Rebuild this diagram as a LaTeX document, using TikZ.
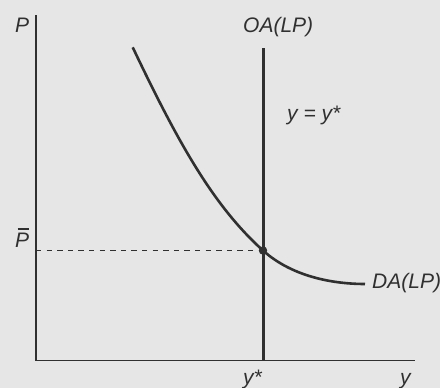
\documentclass[tikz,border=0pt]{standalone}
\usepackage{fontspec}
\setmainfont{Liberation Sans}
\definecolor{bg}{HTML}{E6E6E6}
\definecolor{ink}{HTML}{303030}
\begin{document}
\begin{tikzpicture}[x=1pt,y=-1pt,
  axis/.style={draw=ink, line width=1.3pt},
  supply/.style={draw=ink, line width=3pt},
  demand/.style={draw=ink, line width=2.6pt},
  guide/.style={draw=ink, line width=1pt, dash pattern=on 5.3pt off 5.3pt},
  lbl/.style={font=\fontsize{21}{25}\selectfont\itshape, text=ink, inner sep=0pt, anchor=base west}]
\fill[bg] (0,0) rectangle (440,388);
\useasboundingbox (0,0) rectangle (440,388);
\coordinate (top) at (36,15);
\coordinate (O) at (36,360.3);
\coordinate (xend) at (415,360.3);
\coordinate (stop) at (263,48);
\coordinate (sbot) at (263,360.3);
\coordinate (E) at (263,250.5);
\coordinate (Pb) at (36,250.5);
\coordinate (dstart) at (132.7,47.3);
\coordinate (dend) at (365,284);
\draw[axis] (top) -- (O) -- (xend);
\draw[guide] (Pb) -- (E);
\draw[demand] (dstart) .. controls (177.7,141.8) and (213,205.5) .. (E)
  .. controls (293,277.5) and (335,284) .. (dend);
\draw[supply] (stop) -- (sbot);
\fill[ink] (E) circle (4.2);
\node[lbl] (lP) at (15,32) {P};
\node[lbl] (lOA) at (243,32) {OA(LP)};
\node[lbl] (lyy) at (287,120) {y = y*};
\node[lbl] (lPb) at (15,247) {P};
\draw[ink, line width=1.3pt] ([xshift=2.5pt,yshift=3.5pt]lPb.north west) -- ([xshift=-0.5pt,yshift=3.5pt]lPb.north east);
\node[lbl] (lDA) at (372,288) {DA(LP)};
\node[lbl] (lys) at (243,384) {y*};
\node[lbl] (ly) at (400,384) {y};
\end{tikzpicture}
\end{document}
